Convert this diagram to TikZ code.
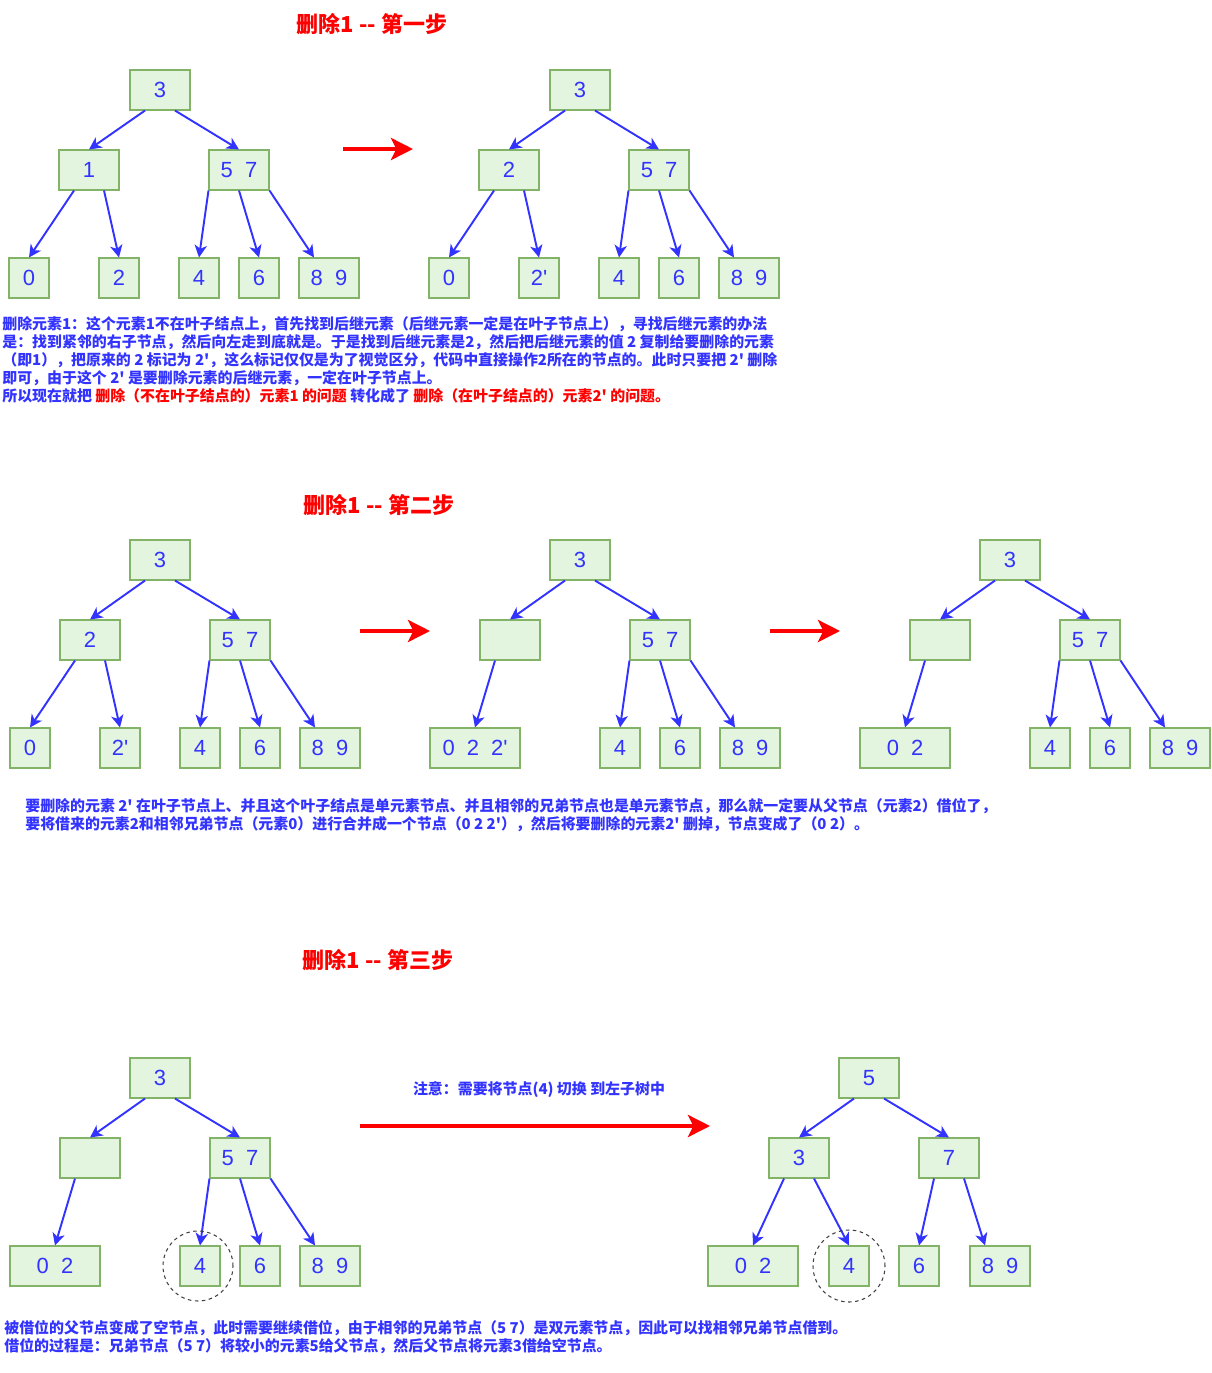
\documentclass[tikz,border=0pt]{standalone}
\usepackage{fontspec}
\usepackage{xcolor}
\usepackage{tikz}
\usetikzlibrary{arrows.meta}
\setmainfont{Liberation Sans}[Ligatures=TeXOff]
\newfontfamily\cjk{Noto Sans CJK SC}[Ligatures=TeXOff]
\definecolor{bleu}{HTML}{3333FF}
\definecolor{rouge}{HTML}{FF0000}
\definecolor{vertfond}{HTML}{E3F5DF}
\definecolor{vertbord}{HTML}{82B366}
\newcommand{\ecart}{\hspace{0.55em}}
\tikzset{
Noeud/.style={
 draw=vertbord, 
 fill=vertfond, 
 text=bleu, 
 line width=0.6pt, 
 minimum height=0.8cm, 
 inner sep=0pt, 
 font=\fontsize{12.5}{14}\selectfont
 },
Grand/.style={Noeud, minimum width=1.2cm},
Petit/.style={Noeud, minimum width=0.8cm},
Large/.style={Noeud, minimum width=1.8cm},
Fleche/.style={
 draw=bleu, 
 line width=1.1pt, 
 -{Stealth[length=7pt,width=7pt,inset=2pt]}
 },
RFleche/.style={
 draw=rouge, 
 line width=2.4pt, 
 -{Stealth[length=12.5pt,width=12.5pt,inset=3pt]}
 },
Titre/.style={
 text=rouge, 
 inner sep=0pt, 
 font=\cjk\bfseries\fontsize{12.5}{15}\selectfont
 },
Texte/.style={
 anchor=west, 
 text=bleu, 
 inner sep=0pt, 
 font=\cjk\bfseries\fontsize{8.5}{10}\selectfont
 },
Cercle/.style={
 draw=black!75, 
 line width=0.6pt, 
 dash pattern=on 2pt off 2pt
 }
}

\begin{document}
\begin{tikzpicture}[x=0.02cm,y=-0.02cm]
\useasboundingbox (0,0) rectangle (1211,1373);

\node[Titre] (t1) at (372,24) {删除1 -- 第一步};
\node[Grand] (a3) at (160,90) {3};
\node[Grand] (a1) at (89,170) {1};
\node[Grand] (a57) at (239,170) {5\ecart 7};
\node[Petit] (a0) at (29,278) {0};
\node[Petit] (a2) at (119,278) {2};
\node[Petit] (a4) at (199,278) {4};
\node[Petit] (a6) at (259,278) {6};
\node[Grand] (a89) at (329,278) {8\ecart 9};
\draw[Fleche] ([xshift=-0.3cm]a3.south) -- (a1.north);
\draw[Fleche] ([xshift=0.3cm]a3.south) -- (a57.north);
\draw[Fleche] ([xshift=-0.3cm]a1.south) -- (a0.north);
\draw[Fleche] ([xshift=0.3cm]a1.south) -- (a2.north);
\draw[Fleche] (a57.south west) -- (a4.north);
\draw[Fleche] (a57.south) -- (a6.north);
\draw[Fleche] (a57.south east) -- ([xshift=-0.3cm]a89.north);

\coordinate (f1d) at (343,149);
\coordinate (f1a) at (413,149);
\draw[RFleche] (f1d) -- (f1a);

\node[Grand] (b3) at (580,90) {3};
\node[Grand] (b2) at (509,170) {2};
\node[Grand] (b57) at (659,170) {5\ecart 7};
\node[Petit] (b0) at (449,278) {0};
\node[Petit] (b2p) at (539,278) {2'};
\node[Petit] (b4) at (619,278) {4};
\node[Petit] (b6) at (679,278) {6};
\node[Grand] (b89) at (749,278) {8\ecart 9};
\draw[Fleche] ([xshift=-0.3cm]b3.south) -- (b2.north);
\draw[Fleche] ([xshift=0.3cm]b3.south) -- (b57.north);
\draw[Fleche] ([xshift=-0.3cm]b2.south) -- (b0.north);
\draw[Fleche] ([xshift=0.3cm]b2.south) -- (b2p.north);
\draw[Fleche] (b57.south west) -- (b4.north);
\draw[Fleche] (b57.south) -- (b6.north);
\draw[Fleche] (b57.south east) -- ([xshift=-0.3cm]b89.north);

\node[Texte] (p1a) at (2,324) {删除元素1：这个元素1不在叶子结点上，首先找到后继元素（后继元素一定是在叶子节点上），寻找后继元素的办法};
\node[Texte] (p1b) at (2,342) {是：找到紧邻的右子节点，然后向左走到底就是。于是找到后继元素是2，然后把后继元素的值 2 复制给要删除的元素};
\node[Texte] (p1c) at (2,360) {（即1），把原来的 2 标记为 2'，这么标记仅仅是为了视觉区分，代码中直接操作2所在的节点的。此时只要把 2' 删除};
\node[Texte] (p1d) at (2,378) {即可，由于这个 2' 是要删除元素的后继元素，一定在叶子节点上。};
\node[Texte] (p1e) at (2,396) {所以现在就把 \textcolor{rouge}{删除（不在叶子结点的）元素1 的问题} 转化成了 \textcolor{rouge}{删除（在叶子结点的）元素2' 的问题。}};

\node[Titre] (t2) at (379,505) {删除1 -- 第二步};
\node[Grand] (c3) at (160,560) {3};
\node[Grand] (c2) at (90,640) {2};
\node[Grand] (c57) at (240,640) {5\ecart 7};
\node[Petit] (c0) at (30,748) {0};
\node[Petit] (c2p) at (120,748) {2'};
\node[Petit] (c4) at (200,748) {4};
\node[Petit] (c6) at (260,748) {6};
\node[Grand] (c89) at (330,748) {8\ecart 9};
\draw[Fleche] ([xshift=-0.3cm]c3.south) -- (c2.north);
\draw[Fleche] ([xshift=0.3cm]c3.south) -- (c57.north);
\draw[Fleche] ([xshift=-0.3cm]c2.south) -- (c0.north);
\draw[Fleche] ([xshift=0.3cm]c2.south) -- (c2p.north);
\draw[Fleche] (c57.south west) -- (c4.north);
\draw[Fleche] (c57.south) -- (c6.north);
\draw[Fleche] (c57.south east) -- ([xshift=-0.3cm]c89.north);

\coordinate (f2d) at (360,631);
\coordinate (f2a) at (430,631);
\draw[RFleche] (f2d) -- (f2a);

\node[Grand] (d3) at (580,560) {3};
\node[Grand] (dv) at (510,640) {};
\node[Grand] (d57) at (660,640) {5\ecart 7};
\node[Large] (d022) at (475,748) {0\ecart 2\ecart 2'};
\node[Petit] (d4) at (620,748) {4};
\node[Petit] (d6) at (680,748) {6};
\node[Grand] (d89) at (750,748) {8\ecart 9};
\draw[Fleche] ([xshift=-0.3cm]d3.south) -- (dv.north);
\draw[Fleche] ([xshift=0.3cm]d3.south) -- (d57.north);
\draw[Fleche] ([xshift=-0.3cm]dv.south) -- (d022.north);
\draw[Fleche] (d57.south west) -- (d4.north);
\draw[Fleche] (d57.south) -- (d6.north);
\draw[Fleche] (d57.south east) -- ([xshift=-0.3cm]d89.north);

\coordinate (f3d) at (770,631);
\coordinate (f3a) at (840,631);
\draw[RFleche] (f3d) -- (f3a);

\node[Grand] (e3) at (1010,560) {3};
\node[Grand] (ev) at (940,640) {};
\node[Grand] (e57) at (1090,640) {5\ecart 7};
\node[Large] (e02) at (905,748) {0\ecart 2};
\node[Petit] (e4) at (1050,748) {4};
\node[Petit] (e6) at (1110,748) {6};
\node[Grand] (e89) at (1180,748) {8\ecart 9};
\draw[Fleche] ([xshift=-0.3cm]e3.south) -- (ev.north);
\draw[Fleche] ([xshift=0.3cm]e3.south) -- (e57.north);
\draw[Fleche] ([xshift=-0.3cm]ev.south) -- (e02.north);
\draw[Fleche] (e57.south west) -- (e4.north);
\draw[Fleche] (e57.south) -- (e6.north);
\draw[Fleche] (e57.south east) -- ([xshift=-0.3cm]e89.north);

\node[Texte] (p2a) at (25,806) {要删除的元素 2' 在叶子节点上、并且这个叶子结点是单元素节点、并且相邻的兄弟节点也是单元素节点，那么就一定要从父节点（元素2）借位了，};
\node[Texte] (p2b) at (25,824) {要将借来的元素2和相邻兄弟节点（元素0）进行合并成一个节点（0 2 2'），然后将要删除的元素2' 删掉，节点变成了（0 2）。};

\node[Titre] (t3) at (378,960) {删除1 -- 第三步};
\node[Grand] (g3) at (160,1078) {3};
\node[Grand] (gv) at (90,1158) {};
\node[Grand] (g57) at (240,1158) {5\ecart 7};
\node[Large] (g02) at (55,1266) {0\ecart 2};
\node[Petit] (g4) at (200,1266) {4};
\node[Petit] (g6) at (260,1266) {6};
\node[Grand] (g89) at (330,1266) {8\ecart 9};
\draw[Fleche] ([xshift=-0.3cm]g3.south) -- (gv.north);
\draw[Fleche] ([xshift=0.3cm]g3.south) -- (g57.north);
\draw[Fleche] ([xshift=-0.3cm]gv.south) -- (g02.north);
\draw[Fleche] (g57.south west) -- (g4.north);
\draw[Fleche] (g57.south) -- (g6.north);
\draw[Fleche] (g57.south east) -- ([xshift=-0.3cm]g89.north);
\draw[Cercle] ([xshift=-0.04cm]g4.center) circle [radius=0.7cm];

\node[Texte, anchor=center] (note) at (539,1090) {注意：需要将节点(4) 切换 到左子树中};
\coordinate (f4d) at (360,1126);
\coordinate (f4a) at (710,1126);
\draw[RFleche] (f4d) -- (f4a);

\node[Grand] (h5) at (869,1078) {5};
\node[Grand] (h3) at (799,1158) {3};
\node[Grand] (h7) at (949,1158) {7};
\node[Large] (h02) at (753,1266) {0\ecart 2};
\node[Petit] (h4) at (849,1266) {4};
\node[Petit] (h6) at (919,1266) {6};
\node[Grand] (h89) at (1000,1266) {8\ecart 9};
\draw[Fleche] ([xshift=-0.3cm]h5.south) -- (h3.north);
\draw[Fleche] ([xshift=0.3cm]h5.south) -- (h7.north);
\draw[Fleche] ([xshift=-0.3cm]h3.south) -- (h02.north);
\draw[Fleche] ([xshift=0.3cm]h3.south) -- (h4.north);
\draw[Fleche] ([xshift=-0.3cm]h7.south) -- (h6.north);
\draw[Fleche] ([xshift=0.3cm]h7.south) -- ([xshift=-0.3cm]h89.north);
\draw[Cercle] (h4.center) circle [radius=0.72cm];

\node[Texte] (p3a) at (4,1328) {被借位的父节点变成了空节点，此时需要继续借位，由于相邻的兄弟节点（5 7）是双元素节点，因此可以找相邻兄弟节点借到。};
\node[Texte] (p3b) at (4,1346) {借位的过程是：兄弟节点（5 7）将较小的元素5给父节点，然后父节点将元素3借给空节点。};
\end{tikzpicture}
\end{document}
